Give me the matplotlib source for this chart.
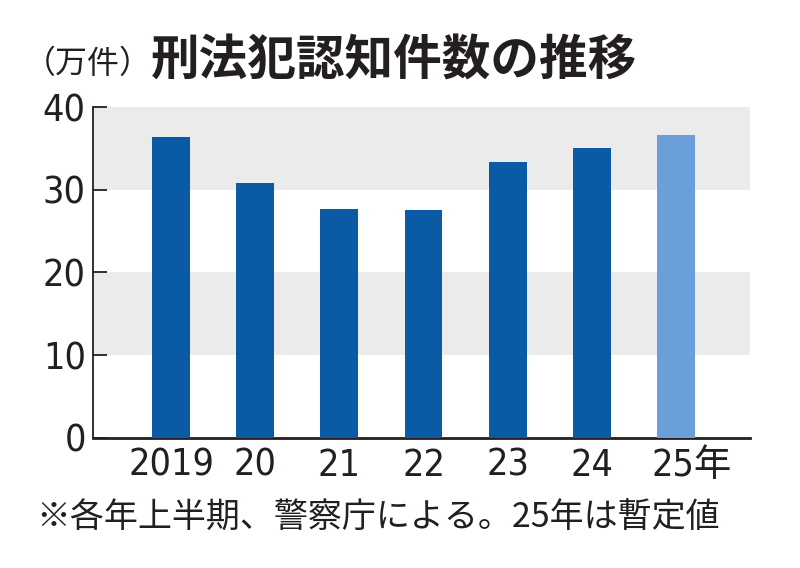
import matplotlib
matplotlib.use("Agg")
import matplotlib.pyplot as plt
import matplotlib.transforms as mtransforms

years = ["2019", "20", "21", "22", "23", "24", "25年"]
values = [36.4, 30.8, 27.7, 27.5, 33.3, 35.0, 36.6]
yticks = [0, 10, 20, 30, 40]
title = "刑法犯認知件数の推移"
unit = "（万件）"
note = "※各年上半期、警察庁による。25年は暫定値"

dark = "#0b5aa6"
light = "#6b9fd9"
band = "#ebebeb"
ink = "#231f20"

num_font = ["DejaVu Sans", "Noto Sans CJK JP"]
cjk_font = ["Noto Sans CJK JP", "DejaVu Sans"]

fig = plt.figure(figsize=(8, 5.68), dpi=100)
ax = fig.add_axes([0.116, 0.229, 0.8215, 0.5826])

x = list(range(len(years)))
colors = [dark] * (len(years) - 1) + [light]
ax.bar(x, values, width=0.45, color=colors, zorder=3)

ax.axhspan(10, 20, color=band, zorder=0, lw=0)
ax.axhspan(30, 40, color=band, zorder=0, lw=0)

ax.set_ylim(0, 40)
ax.set_xlim(-0.93, 6.88)

ax.set_yticks(yticks)
ax.set_yticklabels([str(v) for v in yticks], fontsize=27, family=num_font,
                   fontstretch="condensed", color=ink)
ax.tick_params(axis="y", direction="in", length=10, width=1.3, color=ink, pad=5)

ax.set_xticks(x)
ax.set_xticklabels(years, fontsize=27, family=num_font, fontstretch="condensed", color=ink)
ax.tick_params(axis="x", length=0, pad=7)
lbls = ax.get_xticklabels()
off = mtransforms.ScaledTranslation(16 / 100, 0, fig.dpi_scale_trans)
lbls[-1].set_transform(lbls[-1].get_transform() + off)

for s in ["top", "right"]:
    ax.spines[s].set_visible(False)
ax.spines["left"].set_linewidth(1.3)
ax.spines["left"].set_color(ink)
ax.spines["bottom"].set_linewidth(2)
ax.spines["bottom"].set_color(ink)

fig.text(0.03, 0.888, unit, fontsize=23, family=cjk_font, color=ink, va="center", ha="left")
fig.text(0.188, 0.893, title, fontsize=35, family=cjk_font, weight="bold", color=ink,
         va="center", ha="left")
fig.text(0.045, 0.088, note, fontsize=24.5, family=cjk_font, color=ink, va="center", ha="left")

fig.savefig("out.png", dpi=100, facecolor="white")
